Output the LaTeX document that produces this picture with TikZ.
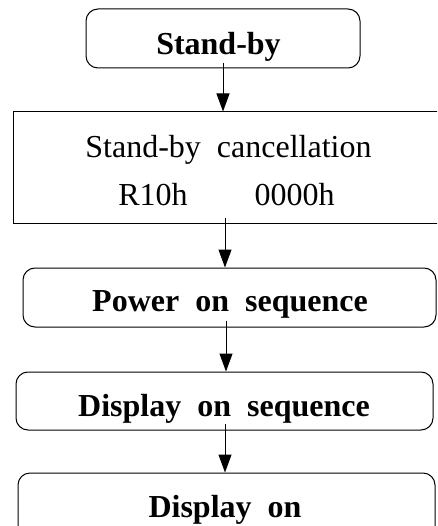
\documentclass[tikz,border=0pt]{standalone}
\usepackage{fontspec}
\setmainfont{Liberation Serif}
\usetikzlibrary{arrows.meta}
\begin{document}
\begin{tikzpicture}[x=1pt,y=-1pt,
  box/.style={draw,line width=1pt,rectangle,inner sep=0pt},
  rbox/.style={box,rounded corners=12pt},
  txt/.style={inner sep=0pt,anchor=base,font=\fontsize{32}{38}\selectfont},
  btxt/.style={txt,font=\fontsize{32}{38}\selectfont\bfseries},
  arr/.style={line width=1pt,-{Triangle[length=18pt,width=13pt]}}]
\useasboundingbox (0,0) rectangle (437,526);
\clip (0,0) rectangle (437,526);
\node[rbox,minimum width=274pt,minimum height=59pt] (b1) at (223,38.5) {};
\node[box,minimum width=432pt,minimum height=112pt] (b2) at (229,168) {};
\node[rbox,minimum width=413pt,minimum height=59pt] (b3) at (229.5,297.5) {};
\node[rbox,minimum width=417pt,minimum height=58pt] (b4) at (224.5,401) {};
\node[rbox,minimum width=417pt,minimum height=67pt] (b5) at (226.5,506.5) {};
\node[btxt] (t1) at (218.5,55) {Stand-by};
\node[txt] (t2a) at (228.5,158) {Stand-by~~cancellation};
\node[txt] (t2b) at (226.5,206) {R10h\hspace{67pt}0000h};
\node[btxt] (t3) at (230,311.7) {Power~~on~~sequence};
\node[btxt] (t4) at (224,416) {Display~~on~~sequence};
\node[btxt] (t5) at (225,517) {Display~~on};
\draw[arr] ([yshift=5pt]b1.south) coordinate (s1) -- (s1 |- b2.north);
\draw[arr] ([xshift=-4pt,yshift=6pt]b2.south) coordinate (s2) -- (s2 |- b3.north);
\draw[arr] ([xshift=-3.5pt,yshift=7pt]b3.south) coordinate (s3) -- (s3 |- b4.north);
\draw[arr] ([xshift=0.5pt,yshift=7pt]b4.south) coordinate (s4) -- (s4 |- b5.north);
\end{tikzpicture}
\end{document}
